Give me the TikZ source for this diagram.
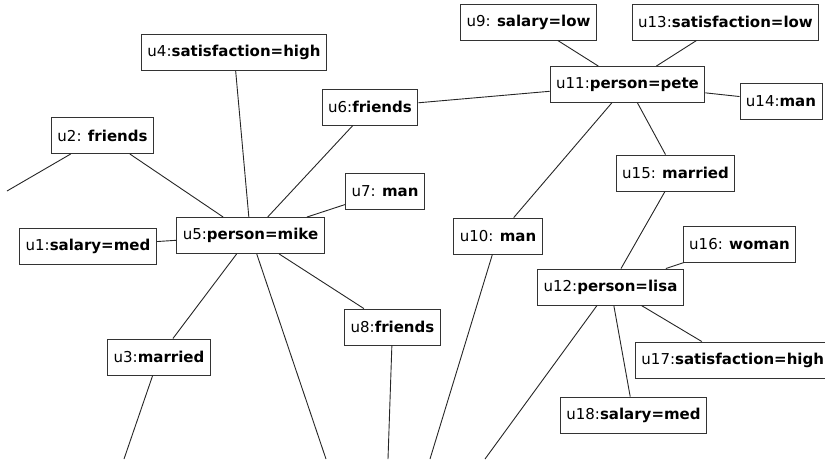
\documentclass[tikz,border=0pt]{standalone}
\usepackage{fontspec}
\setmainfont{DejaVu Sans}

\begin{document}
\begin{tikzpicture}
[x=1pt,y=-1pt,
 unit/.style={shape=rectangle,draw=black!80,fill=white,line width=0.9pt,
   minimum height=36pt,inner xsep=6pt,font=\fontsize{15}{18}\selectfont},
 link/.style={draw=black!85,line width=0.9pt}]
\useasboundingbox (0,0) rectangle (825,459);
\clip (0,0) rectangle (825,459);
\node[unit] (u1) at (88,246) {u1:\textbf{salary=med}};
\node[unit] (u2) at (102.5,135.5) {u2: \textbf{friends}};
\node[unit] (u3) at (159,357) {u3:\textbf{married}};
\node[unit] (u4) at (234,52.5) {u4:\textbf{satisfaction=high}};
\node[unit] (u5) at (250.5,235.5) {u5:\textbf{person=mike}};
\node[unit] (u6) at (370,107) {u6:\textbf{friends}};
\node[unit] (u7) at (385,191.5) {u7: \textbf{man}};
\node[unit] (u8) at (392.5,327) {u8:\textbf{friends}};
\node[unit] (u9) at (528.5,22) {u9: \textbf{salary=low}};
\node[unit] (u10) at (498,236) {u10: \textbf{man}};
\node[unit] (u11) at (627.5,84.5) {u11:\textbf{person=pete}};
\node[unit] (u12) at (610.5,287) {u12:\textbf{person=lisa}};
\node[unit] (u13) at (725.5,22) {u13:\textbf{satisfaction=low}};
\node[unit] (u14) at (781,101) {u14:\textbf{man}};
\node[unit] (u15) at (675.5,173) {u15: \textbf{married}};
\node[unit] (u16) at (739.5,244) {u16: \textbf{woman}};
\node[unit] (u17) [anchor=west] at (635,360) {u17:\textbf{satisfaction=high}};
\node[unit] (u18) at (633.5,415) {u18:\textbf{salary=med}};

% loose ends running out of the picture
\coordinate (e2) at (7,191);
\coordinate (e3) at (124,459);
\coordinate (e5) at (326,459);
\coordinate (e8) at (388,459);
\coordinate (e10) at (430,459);
\coordinate (e12) at (485,459);

\draw[link] (u2) -- (e2);
\draw[link] (u2) -- (u5);
\draw[link] (u4) -- (u5);
\draw[link] (u6) -- (u5);
\draw[link] (u7) -- (u5);
\draw[link] (u1) -- (u5);
\draw[link] (u5) -- (u3);
\draw[link] (u5) -- (e5);
\draw[link] (u5) -- (u8);
\draw[link] (u3) -- (e3);
\draw[link] (u8) -- (e8);
\draw[link] (u6) -- (u11);
\draw[link] (u9) -- (u11);
\draw[link] (u13) -- (u11);
\draw[link] (u14) -- (u11);
\draw[link] (u11) -- (u10);
\draw[link] (u11) -- (u15);
\draw[link] (u10) -- (e10);
\draw[link] (u15) -- (u12);
\draw[link] (u16) -- (u12);
\draw[link] (u17) -- (u12);
\draw[link] (u18) -- (u12);
\draw[link] (u12) -- (e12);
\end{tikzpicture}
\end{document}
